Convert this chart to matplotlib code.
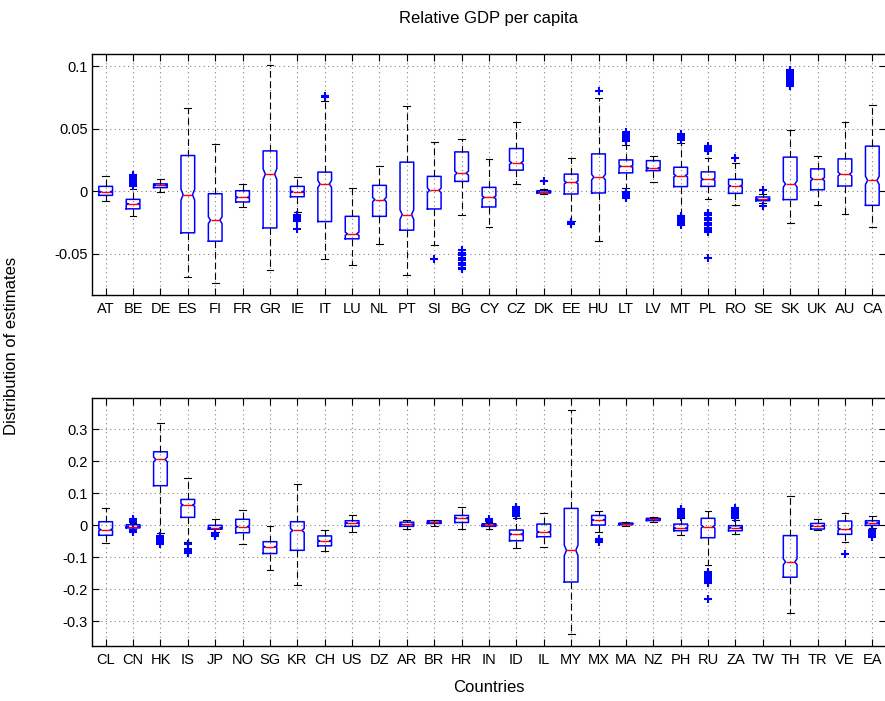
import numpy as np
import matplotlib
matplotlib.use('Agg')
import matplotlib.pyplot as plt
from matplotlib.ticker import FuncFormatter

plt.rcParams['font.family'] = ['Liberation Sans', 'DejaVu Sans']
plt.rcParams['font.size'] = 10

# --- euro area / EU / advanced economies ---
top_names = ['AT', 'BE', 'DE', 'ES', 'FI', 'FR', 'GR', 'IE', 'IT', 'LU', 'NL', 'PT', 'SI', 'BG', 'CY',
             'CZ', 'DK', 'EE', 'HU', 'LT', 'LV', 'MT', 'PL', 'RO', 'SE', 'SK', 'UK', 'AU', 'CA']
top_lo = [-0.008, -0.020, -0.0005, -0.0686, -0.0731, -0.0125, -0.063, -0.0168, -0.054, -0.0593,
          -0.0418, -0.067, -0.0431, -0.0191, -0.0287, 0.0056, -0.002, -0.024, -0.040, 0.0027,
          0.0078, -0.0187, -0.0061, -0.0112, -0.0095, -0.0255, -0.011, -0.0184, -0.0282]
top_q1 = [-0.0032, -0.014, 0.003, -0.0332, -0.0399, -0.0085, -0.0293, -0.0043, -0.0242, -0.038,
          -0.020, -0.0311, -0.0141, 0.008, -0.0125, 0.017, -0.0013, -0.0021, -0.0013, 0.0148,
          0.0166, 0.0038, 0.004, -0.0016, -0.0075, -0.0066, 0.0013, 0.0043, -0.0112]
top_med = [-0.0003, -0.010, 0.0048, -0.0027, -0.0231, -0.0048, 0.0138, -0.0003, 0.0059, -0.034,
           -0.0066, -0.0186, 0.0008, 0.0146, -0.0048, 0.0229, -0.0003, 0.0072, 0.0114, 0.020,
           0.0185, 0.0126, 0.0096, 0.0043, -0.0064, 0.0059, 0.0098, 0.0138, 0.0088]
top_q3 = [0.004, -0.0064, 0.006, 0.0287, -0.0019, 0.0005, 0.0324, 0.004, 0.0154, -0.020,
          0.0048, 0.0234, 0.012, 0.0316, 0.0032, 0.0343, 0.0005, 0.0138, 0.030, 0.0252,
          0.0246, 0.0193, 0.0156, 0.0096, -0.0045, 0.0274, 0.018, 0.026, 0.0362]
top_hi = [0.0125, 0.002, 0.010, 0.0668, 0.0383, 0.0059, 0.1013, 0.0117, 0.072, 0.0027,
          0.0202, 0.0686, 0.0394, 0.042, 0.0258, 0.0559, 0.002, 0.027, 0.0745, 0.0375,
          0.0284, 0.0388, 0.0268, 0.0228, -0.002, 0.049, 0.0287, 0.0556, 0.0689]
top_outliers = {
    'BE': [0.004, 0.0055, 0.007, 0.0085, 0.010, 0.0115, 0.013],
    'IE': [-0.019, -0.0205, -0.022, -0.0235, -0.030],
    'IT': [0.0755, 0.0765],
    'SI': [-0.0545],
    'BG': [-0.047, -0.049, -0.051, -0.053, -0.055, -0.057, -0.059, -0.061, -0.0625],
    'DK': [0.008],
    'EE': [-0.0245, -0.0265],
    'HU': [0.0806],
    'LT': [0.040, 0.0415, 0.043, 0.0445, 0.046, 0.0475, -0.0005, -0.002, -0.0035, -0.005],
    'MT': [0.0415, 0.043, 0.0445, 0.046, -0.0195, -0.021, -0.0225, -0.024, -0.0255, -0.027],
    'PL': [0.032, 0.0335, 0.035, 0.0365, -0.0175, -0.019, -0.021, -0.023, -0.025, -0.027,
           -0.029, -0.031, -0.0325, -0.053],
    'RO': [0.0265],
    'SE': [0.0014, -0.0115],
    'SK': [0.084, 0.0855, 0.087, 0.0885, 0.090, 0.0915, 0.093, 0.0945, 0.096, 0.0975],
}

# --- other economies (DZ and TW have no estimates) ---
bot_names = ['CL', 'CN', 'HK', 'IS', 'JP', 'NO', 'SG', 'KR', 'CH', 'US', 'DZ', 'AR', 'BR', 'HR', 'IN',
             'ID', 'IL', 'MY', 'MX', 'MA', 'NZ', 'PH', 'RU', 'ZA', 'TW', 'TH', 'TR', 'VE', 'EA']
bot_lo = [-0.055, -0.012, -0.026, -0.052, -0.021, -0.058, -0.139, -0.1875, -0.082, -0.023, None,
          -0.0135, -0.003, -0.0135, -0.011, -0.073, -0.068, -0.342, -0.021, -0.002, 0.008,
          -0.032, -0.125, -0.028, None, -0.274, -0.0156, -0.054, -0.010]
bot_q1 = [-0.032, -0.009, 0.123, 0.024, -0.013, -0.024, -0.089, -0.079, -0.065, -0.004, None,
          -0.004, 0.005, 0.008, -0.004, -0.049, -0.0365, -0.178, 0.000, 0.001, 0.014,
          -0.0177, -0.0396, -0.0177, None, -0.163, -0.0125, -0.029, -0.001]
bot_med = [-0.0146, -0.005, 0.205, 0.0625, -0.0083, -0.005, -0.068, -0.017, -0.050, 0.006, None,
           0.002, 0.008, 0.021, 0.000, -0.029, -0.022, -0.079, 0.0156, 0.004, 0.018,
           -0.0104, -0.005, -0.0083, None, -0.115, -0.003, -0.0125, 0.0073]
bot_q3 = [0.0104, 0.001, 0.229, 0.080, -0.001, 0.018, -0.052, 0.0104, -0.034, 0.0135, None,
          0.009, 0.0135, 0.030, 0.004, -0.0156, 0.003, 0.052, 0.030, 0.006, 0.021,
          0.003, 0.021, -0.002, None, -0.033, 0.005, 0.0125, 0.0135]
bot_hi = [0.052, 0.006, 0.318, 0.148, 0.018, 0.046, -0.002, 0.127, -0.0146, 0.032, None,
          0.0167, 0.0167, 0.055, 0.010, 0.021, 0.0365, 0.361, 0.045, 0.009, 0.024,
          0.021, 0.045, 0.015, None, 0.0906, 0.019, 0.0385, 0.029]
bot_outliers = {
    'CN': [0.010, 0.015, 0.020, -0.015, -0.020, -0.023],
    'HK': [-0.035, -0.040, -0.045, -0.050, -0.055, -0.058],
    'IS': [-0.060, -0.076, -0.080, -0.084, -0.088],
    'JP': [-0.026, -0.030, -0.034],
    'IN': [0.014, 0.018],
    'ID': [0.028, 0.033, 0.038, 0.043, 0.048, 0.053, 0.057],
    'MX': [-0.044, -0.048, -0.052],
    'PH': [0.026, 0.031, 0.036, 0.041, 0.046, 0.050],
    'RU': [-0.146, -0.152, -0.158, -0.164, -0.170, -0.176, -0.182, -0.231],
    'ZA': [0.021, 0.026, 0.031, 0.036, 0.041, 0.046, 0.052],
    'VE': [-0.0917],
    'EA': [-0.0156, -0.020, -0.025, -0.030, -0.0365],
}

n_draws = 500      # estimates per country, sets the notch size
box_width = 0.5


def box_stats(names, lo, q1, med, q3, hi, outliers):
    stats, pos = [], []
    for i, name in enumerate(names):
        if med[i] is None:
            continue
        half = 1.57 * (q3[i] - q1[i]) / np.sqrt(n_draws)
        stats.append(dict(whislo=lo[i], q1=q1[i], med=med[i], q3=q3[i], whishi=hi[i],
                          cilo=med[i] - half, cihi=med[i] + half,
                          fliers=outliers.get(name, [])))
        pos.append(i + 1)
    return stats, pos


def draw_panel(ax, names, stats, pos, ylim, yticks):
    art = ax.bxp(stats, positions=pos, widths=box_width, capwidths=0.25, shownotches=True,
                 boxprops=dict(color='blue', lw=1.1),
                 medianprops=dict(color='red', lw=1.0),
                 whiskerprops=dict(color='black', lw=0.8, linestyle=(0, (6, 3.5))),
                 capprops=dict(color='black', lw=0.8),
                 flierprops=dict(marker='+', markeredgecolor='blue', markersize=6,
                                 markeredgewidth=1.5, linestyle='none'),
                 manage_ticks=False)
    # shallower notches
    for p, box, med in zip(pos, art['boxes'], art['medians']):
        xd = np.asarray(box.get_xdata(), dtype=float)
        xd[3] = p + 0.34 * box_width
        xd[8] = p - 0.34 * box_width
        box.set_xdata(xd)
        med.set_xdata([p - 0.34 * box_width, p + 0.34 * box_width])

    ax.set_xlim(0.5, len(names) + 0.5)
    ax.set_ylim(*ylim)
    ax.set_xticks(np.arange(1, len(names) + 1))
    ax.set_xticklabels(names)
    ax.set_yticks(yticks)
    ax.yaxis.set_major_formatter(FuncFormatter(lambda v, _: '%g' % round(v, 4)))
    ax.grid(True, linestyle=(0, (1, 3)), color='0.5', lw=0.8)
    ax.set_axisbelow(True)
    ax.tick_params(direction='in', top=True, right=True, length=5, width=0.8, labelsize=10.5)
    ax.tick_params(axis='x', pad=5)
    ax.tick_params(axis='y', pad=3)
    for s in ax.spines.values():
        s.set_linewidth(1.0)


fig = plt.figure(figsize=(8.85, 7.01), dpi=100)
ax1 = fig.add_axes([92 / 885, 1 - 295 / 701, 794 / 885, 241 / 701])
ax2 = fig.add_axes([92 / 885, 1 - 646 / 701, 794 / 885, 248 / 701])

s1, p1 = box_stats(top_names, top_lo, top_q1, top_med, top_q3, top_hi, top_outliers)
s2, p2 = box_stats(bot_names, bot_lo, bot_q1, bot_med, bot_q3, bot_hi, bot_outliers)

draw_panel(ax1, top_names, s1, p1, (-0.083, 0.110), [-0.05, 0, 0.05, 0.1])
draw_panel(ax2, bot_names, s2, p2, (-0.378, 0.397), np.round(np.arange(-0.3, 0.31, 0.1), 1))

fig.text(489 / 885, 1 - 19 / 701, 'Relative GDP per capita', ha='center', va='center', fontsize=12)
fig.text(489 / 885, 1 - 688 / 701, 'Countries', ha='center', va='center', fontsize=12)
fig.text(12 / 885, 1 - 346 / 701, 'Distribution of estimates', ha='center', va='center',
         rotation=90, fontsize=12)

fig.savefig('out.png', dpi=100)
